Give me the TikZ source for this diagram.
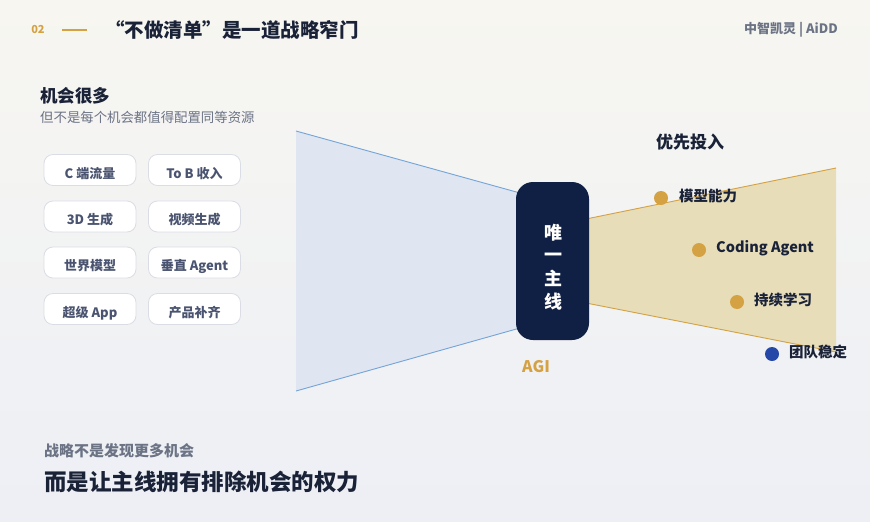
\documentclass[tikz,border=0pt]{standalone}
\usepackage{fontspec}
\setmainfont{Noto Sans CJK SC}
\definecolor{bgtop}{HTML}{F7F6F1}
\definecolor{bgbot}{HTML}{EDEFF5}
\definecolor{navy}{HTML}{1A2238}
\definecolor{gold}{HTML}{D4A143}
\definecolor{grayt}{HTML}{6B7385}
\definecolor{boxt}{HTML}{4A5470}
\definecolor{boxb}{HTML}{DADDE5}
\definecolor{leftfill}{HTML}{DFE5F1}
\definecolor{leftline}{HTML}{74A4D8}
\definecolor{rightfill}{HTML}{E7DDB9}
\definecolor{mainbox}{HTML}{0F2044}
\definecolor{bluedot}{HTML}{2548A8}
\tikzset{
  opbox/.style={draw=boxb, line width=0.8pt, fill=white, rounded corners=9pt, minimum width=92pt, minimum height=31pt, inner sep=0pt, text height=16pt, text depth=0pt, text=boxt, font=\fontsize{13}{15}\selectfont\bfseries},
  golddot/.style={circle, fill=gold, minimum size=14pt, inner sep=0pt},
  bluedotst/.style={circle, fill=bluedot, minimum size=14pt, inner sep=0pt},
  itemlbl/.style={anchor=west, text=navy, inner sep=0pt, font=\fontsize{14.5}{17}\selectfont\bfseries},
}
\begin{document}
\begin{tikzpicture}[x=1pt,y=-1pt]
\useasboundingbox (0,0) rectangle (870,522);
\shade[top color=bgtop, bottom color=bgbot] (0,0) rectangle (870,522);

% header
\node[anchor=center, text=gold, inner sep=0pt, font=\fontsize{11}{13}\selectfont\bfseries] (num) at (38,30) {02};
\coordinate (l1) at (62,30);
\coordinate (l2) at (87,30);
\draw[gold, line width=1.3pt] (l1) -- (l2);
\node[anchor=west, text=navy, inner sep=0pt, font=\fontsize{19.5}{22}\selectfont\bfseries] (title) at (105,30) {“不做清单”是一道战略窄门};
\node[anchor=east, text=grayt, inner sep=0pt, font=\fontsize{13}{15}\selectfont\bfseries] (brand) at (838,30) {中智凯灵 | AiDD};

% left heading
\node[anchor=west, text=navy, inner sep=0pt, font=\fontsize{17.5}{20}\selectfont\bfseries] (h1) at (40,96) {机会很多};
\node[anchor=west, text=grayt, inner sep=0pt, font=\fontsize{13.4}{15}\selectfont] (h2) at (40,117) {但不是每个机会都值得配置同等资源};

% option boxes
\node[opbox] (b1) at (90,170) {C 端流量};
\node[opbox] (b2) at (194.5,170) {To B 收入};
\node[opbox] (b3) at (90,216.5) {3D 生成};
\node[opbox] (b4) at (194.5,216.5) {视频生成};
\node[opbox] (b5) at (90,262.5) {世界模型};
\node[opbox] (b6) at (194.5,262.5) {垂直 Agent};
\node[opbox] (b7) at (90,309) {超级 App};
\node[opbox] (b8) at (194.5,309) {产品补齐};

% funnels
\fill[leftfill] (296,131) -- (520,193) -- (520,328) -- (296,391) -- cycle;
\draw[leftline, line width=0.9pt] (296,131) -- (520,193);
\draw[leftline, line width=0.9pt] (296,391) -- (520,328);
\fill[rightfill] (586,219) -- (836,168) -- (836,352) -- (586,303) -- cycle;
\draw[gold, line width=0.9pt] (586,219) -- (836,168);
\draw[gold, line width=0.9pt] (586,303) -- (836,352);

% main box
\node[fill=mainbox, rounded corners=17pt, minimum width=73pt, minimum height=158pt, inner sep=0pt] (main) at (552.5,261) {};
\node[text=white, inner sep=0pt, font=\fontsize{18}{21}\selectfont\bfseries] (c1) at (553,233) {唯};
\node[text=white, inner sep=0pt, font=\fontsize{18}{21}\selectfont\bfseries] (c2) at (553,257) {一};
\node[text=white, inner sep=0pt, font=\fontsize{18}{21}\selectfont\bfseries] (c3) at (553,278) {主};
\node[text=white, inner sep=0pt, font=\fontsize{18}{21}\selectfont\bfseries] (c4) at (553,302) {线};
\node[text=gold, inner sep=0pt, font=\fontsize{16}{19}\selectfont\bfseries] (agi) at (536,367) {AGI};

% right items
\node[anchor=west, text=navy, inner sep=0pt, font=\fontsize{17}{20}\selectfont\bfseries] (prio) at (656,142) {优先投入};
\node[golddot] (d1) at (661,198) {};
\node[itemlbl] (t1) at (679,196) {模型能力};
\node[golddot] (d2) at (699,250) {};
\node[itemlbl] (t2) at (716,248) {Coding Agent};
\node[golddot] (d3) at (737,302) {};
\node[itemlbl] (t3) at (754,300) {持续学习};
\node[bluedotst] (d4) at (772,354) {};
\node[itemlbl] (t4) at (789,352) {团队稳定};

% bottom
\node[anchor=west, text=grayt, inner sep=0pt, font=\fontsize{15}{18}\selectfont\bfseries] (s1) at (44,451) {战略不是发现更多机会};
\node[anchor=west, text=navy, inner sep=0pt, font=\fontsize{22.5}{26}\selectfont\bfseries] (s2) at (44,482) {而是让主线拥有排除机会的权力};
\end{tikzpicture}
\end{document}
